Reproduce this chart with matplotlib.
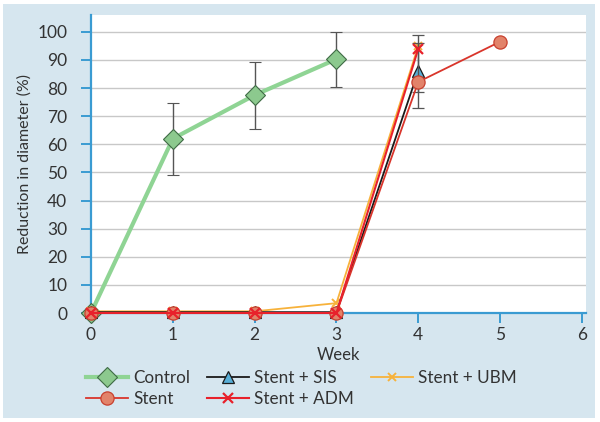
#!/usr/bin/env python3

import numpy as np
from matplotlib import pyplot as plt
from matplotlib.patches import Rectangle

plt.rcParams['font.family'] = ['Lato', 'DejaVu Sans']

weeks_control = [0, 1, 2, 3]
control = [0, 62, 77.5, 90.3]
control_err = [0, 12.8, 11.9, 9.8]

weeks_stent = [0, 1, 2, 3, 4, 5]
stent = [0, 0, 0, 0, 82.2, 96.5]
stent_err_lo = [0, 0, 0, 0, 3.6, 0]
stent_err_hi = [0, 0, 0, 0, 13.9, 0]

weeks_graft = [0, 1, 2, 3, 4]
sis = [0.3, 0.3, 0.3, 0.3, 86.0]
sis_err = [0, 0, 0, 0, 13.0]
ubm = [0.6, 0.6, 0.6, 3.5, 95.0]
adm = [0, 0, 0, 0, 94.0]

xticks = [0, 1, 2, 3, 4, 5, 6]
yticks = [0, 10, 20, 30, 40, 50, 60, 70, 80, 90, 100]

bg = '#d6e6ef'
axis_blue = '#3a9bd2'
txt = '#333333'

fig = plt.figure(figsize=(6.0, 4.22), dpi=100, facecolor='white')
fig.patches.append(Rectangle((3/600, 4/422), 592/600, 414/422, transform=fig.transFigure,
                             facecolor=bg, edgecolor='none', zorder=-10))
ax = fig.add_axes([91/600, 1-313/422, 495/600, 298/422])
ax.set_facecolor('white')

ax.grid(axis='y', color='#c8c8c8', linewidth=1)
ax.set_axisbelow(True)

h_ctrl = ax.errorbar(weeks_control, control, yerr=control_err, color='#8fd494', lw=3,
                     marker='D', ms=10, mfc='#8cc98e', mec='#3f6b45', mew=0.8,
                     ecolor='#555555', elinewidth=1, capsize=4, capthick=1,
                     label='Control', clip_on=False, zorder=5)
h_ubm = ax.plot(weeks_graft, ubm, color='#f7b23b', lw=1.3, marker='x', ms=6, mew=1.4,
                label='Stent + UBM', clip_on=False, zorder=6)[0]
h_sis = ax.errorbar(weeks_graft, sis, yerr=sis_err, color='#1a1a1a', lw=1.3,
                    marker='^', ms=9, mfc='#58aed6', mec='#1a1a1a', mew=0.9,
                    ecolor='#555555', elinewidth=1, capsize=4, capthick=1,
                    label='Stent + SIS', clip_on=False, zorder=7)
h_stent = ax.errorbar(weeks_stent, stent, yerr=[stent_err_lo, stent_err_hi], color='#d9352b', lw=1.3,
                      marker='o', ms=9.5, mfc='#e2836a', mec='#c8402e', mew=0.9,
                      ecolor='#555555', elinewidth=1, capsize=4, capthick=1,
                      label='Stent', clip_on=False, zorder=8)
h_adm = ax.plot(weeks_graft, adm, color='#e8212b', lw=1.5, marker='x', ms=7, mew=1.6,
                label='Stent + ADM', clip_on=False, zorder=9)[0]

ax.set_xlim(0, 6.05)
ax.set_ylim(0, 106)
ax.set_xticks(xticks)
ax.set_yticks(yticks)
for s in ['top', 'right']:
    ax.spines[s].set_visible(False)
for s in ['left', 'bottom']:
    ax.spines[s].set_color(axis_blue)
    ax.spines[s].set_linewidth(1.6)
ax.tick_params(axis='both', colors=axis_blue, labelcolor=txt, labelsize=12.5, width=1.4, length=7)
ax.tick_params(axis='x', pad=3)
ax.tick_params(axis='y', pad=10)

ax.set_xlabel('Week', fontsize=12, color=txt, labelpad=3)
ax.set_ylabel('Reduction in diameter (%)', fontsize=11.5, color=txt, labelpad=4)

# legend shows line + marker only, no error bars
handles = [h_ctrl[0], h_stent[0], h_sis[0], h_adm, h_ubm]
labels = ['Control', 'Stent', 'Stent + SIS', 'Stent + ADM', 'Stent + UBM']
fig.legend(handles, labels, loc='upper left', bbox_to_anchor=(86/600, 1-370/422), ncol=3,
           frameon=False, fontsize=12.3, labelcolor=txt, handlelength=2.45, handletextpad=0.3,
           columnspacing=1.0, labelspacing=0.3, borderaxespad=0, borderpad=0)

fig.savefig('out.png', dpi=100, facecolor='white')
